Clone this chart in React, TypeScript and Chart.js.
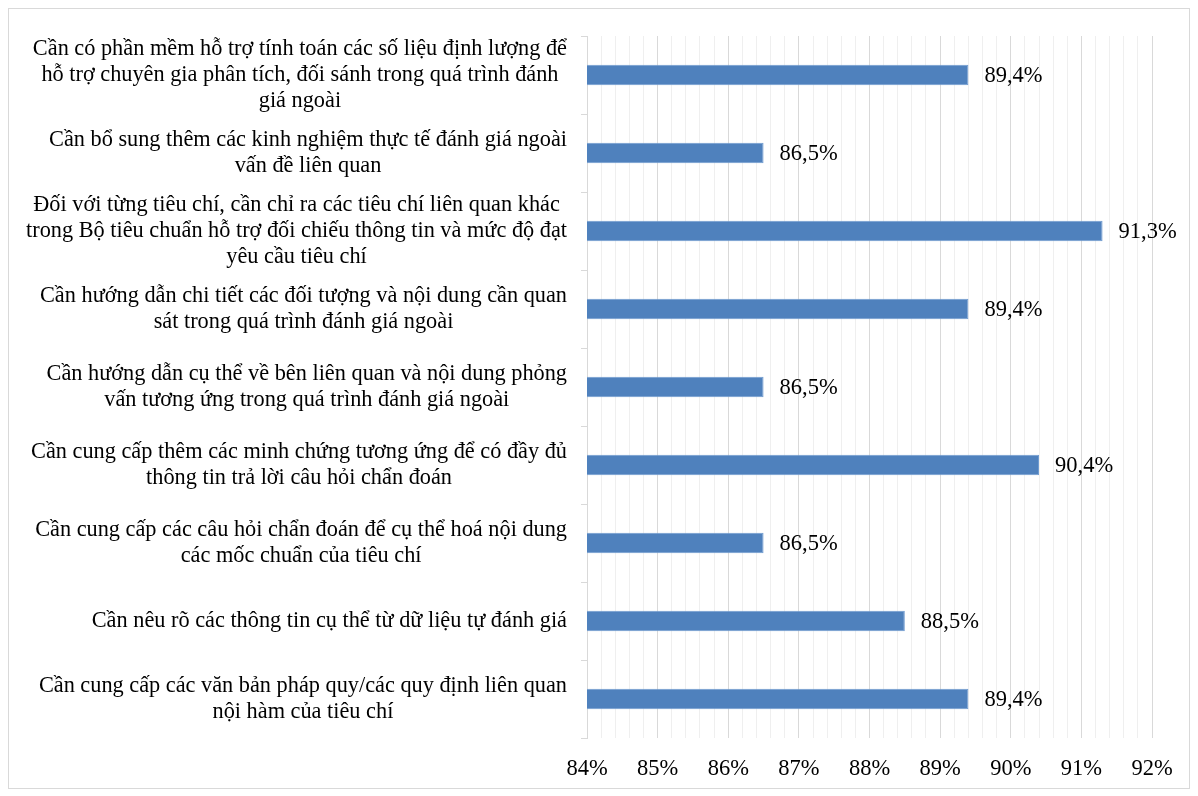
import React, { useEffect, useRef } from "react";
import { Chart, registerables } from "chart.js";

Chart.register(...registerables);

const categories: string[][] = [
  ["Cần có phần mềm hỗ trợ tính toán các số liệu định lượng để", "hỗ trợ chuyên gia phân tích, đối sánh trong quá trình đánh", "giá ngoài"],
  ["Cần bổ sung thêm các kinh nghiệm thực tế đánh giá ngoài", "vấn đề liên quan"],
  ["Đối với từng tiêu chí, cần chỉ ra các tiêu chí liên quan khác", "trong Bộ tiêu chuẩn hỗ trợ đối chiếu thông tin và mức độ đạt", "yêu cầu tiêu chí"],
  ["Cần hướng dẫn chi tiết các đối tượng và nội dung cần quan", "sát trong quá trình đánh giá ngoài"],
  ["Cần hướng dẫn cụ thể về bên liên quan và nội dung phỏng", "vấn tương ứng trong quá trình đánh giá ngoài"],
  ["Cần cung cấp thêm các minh chứng tương ứng để có đầy đủ", "thông tin trả lời câu hỏi chẩn đoán"],
  ["Cần cung cấp các câu hỏi chẩn đoán để cụ thể hoá nội dung", "các mốc chuẩn của tiêu chí"],
  ["Cần nêu rõ các thông tin cụ thể từ dữ liệu tự đánh giá"],
  ["Cần cung cấp các văn bản pháp quy/các quy định liên quan", "nội hàm của tiêu chí"],
];

const values: number[] = [89.4, 86.5, 91.3, 89.4, 86.5, 90.4, 86.5, 88.5, 89.4];

const axisMin = 84;
const axisMax = 92;
const minorStep = 0.2;

const FONT = "'Liberation Serif', 'Times New Roman', serif";
const CAT_SIZE = 22.3;
const CAT_LH = 26.3;

const isMajor = (v: number) => Math.abs(v - Math.round(v)) < 1e-6;

const dataLabelPlugin = {
  id: "dataLabels",
  afterDatasetsDraw(chart: any) {
    const ctx = chart.ctx;
    const meta = chart.getDatasetMeta(0);
    ctx.save();
    ctx.font = `22.5px ${FONT}`;
    ctx.fillStyle = "#000";
    ctx.textAlign = "left";
    ctx.textBaseline = "middle";
    meta.data.forEach((bar: any, i: number) => {
      const v = chart.data.datasets[0].data[i] as number;
      const txt = v.toFixed(1).replace(".", ",") + "%";
      ctx.fillText(txt, bar.x + 16, bar.y + 1);
    });
    ctx.restore();
  },
};

// Category labels: each block right-aligned to the axis, lines centred within the block
const categoryLabelPlugin = {
  id: "categoryLabels",
  afterDraw(chart: any) {
    const ctx = chart.ctx;
    const yScale = chart.scales.y;
    const right = yScale.right - 6 - 14;
    ctx.save();
    ctx.font = `${CAT_SIZE}px ${FONT}`;
    ctx.fillStyle = "#000";
    ctx.textAlign = "center";
    ctx.textBaseline = "middle";
    (chart.data.labels as string[][]).forEach((lines, i) => {
      const y = yScale.getPixelForTick(i);
      const w = Math.max(...lines.map((l) => ctx.measureText(l).width));
      const cx = right - w / 2;
      const n = lines.length;
      lines.forEach((l, k) => {
        ctx.fillText(l, cx, y + (k - (n - 1) / 2) * CAT_LH);
      });
    });
    ctx.restore();
  },
};

export default function App() {
  const ref = useRef<HTMLCanvasElement | null>(null);

  useEffect(() => {
    if (!ref.current) return;
    const chart = new Chart(ref.current, {
      type: "bar",
      data: {
        labels: categories,
        datasets: [
          {
            data: values,
            backgroundColor: "#4F81BD",
            borderColor: "#6f9bd0",
            borderWidth: 1,
            barPercentage: 0.26,
            categoryPercentage: 1,
          },
        ],
      },
      plugins: [dataLabelPlugin, categoryLabelPlugin],
      options: {
        indexAxis: "y",
        responsive: false,
        animation: false,
        layout: { padding: { top: 27, right: 37, left: 0, bottom: 0 } },
        plugins: {
          legend: { display: false },
          tooltip: { enabled: false },
        },
        scales: {
          x: {
            min: axisMin,
            max: axisMax,
            border: { display: false },
            grid: {
              drawTicks: false,
              color: (c: any) => (isMajor(c.tick.value) ? "#d9d9d9" : "#efefef"),
              lineWidth: 1,
            },
            ticks: {
              stepSize: minorStep,
              autoSkip: false,
              maxTicksLimit: 100,
              maxRotation: 0,
              padding: 18,
              color: "#000",
              font: { family: FONT, size: 22.5 },
              callback: (v: any) => (isMajor(Number(v)) ? Math.round(Number(v)) + "%" : ""),
            },
            afterFit: (s: any) => {
              s.height = 50;
              s.paddingLeft = 0;
              s.paddingRight = 0;
            },
          },
          y: {
            border: { display: true, color: "#d9d9d9" },
            grid: {
              offset: true,
              drawOnChartArea: false,
              drawTicks: true,
              tickLength: 6,
              color: "#d9d9d9",
            },
            ticks: {
              display: false,
              autoSkip: false,
            },
            afterFit: (s: any) => {
              s.width = 578;
              s.paddingTop = 0;
              s.paddingBottom = 0;
            },
          },
        },
      },
    });
    return () => chart.destroy();
  }, []);

  return (
    <div style={{ width: 1180, height: 779, border: "1px solid #d9d9d9", background: "#fff" }}>
      <canvas ref={ref} width={1180} height={779} style={{ display: "block" }} />
    </div>
  );
}
